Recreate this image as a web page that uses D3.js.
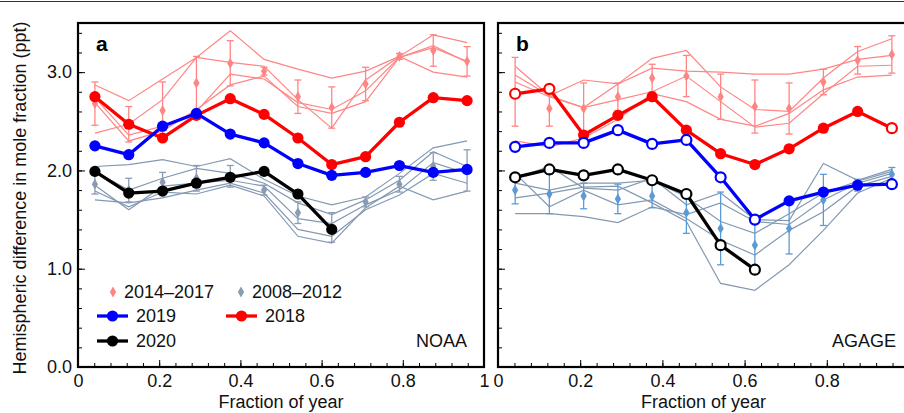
<!DOCTYPE html>
<html>
<head>
<meta charset="utf-8">
<script src="https://cdn.jsdelivr.net/npm/d3@7"></script>
<style>
  body { margin: 0; background: #fff; }
  svg { font-family: "Liberation Sans", Arial, sans-serif; }
</style>
</head>
<body>
<svg id="chart" width="904" height="413"></svg>
<script>
// month centres as fraction of year
var months = d3.range(12).map(function(i) { return (i + 0.5) / 12; });

// ---- NOAA (panel a) ----
var noaa2018 = [2.75, 2.47, 2.33, 2.56, 2.73, 2.57, 2.33, 2.06, 2.14, 2.49, 2.74, 2.71];
var noaa2019 = [2.25, 2.16, 2.45, 2.58, 2.37, 2.28, 2.07, 1.95, 1.98, 2.05, 1.98, 2.01];
var noaa2020 = [1.99, 1.77, 1.79, 1.87, 1.93, 1.99, 1.76, 1.40];
var noaaRecent = [ // 2014-2017
  [2.87, 2.71, 2.93, 3.15, 3.42, 3.13, 3.03, 2.94, 3.01, 3.16, 3.38, 3.30],
  [2.74, 2.36, 2.45, 2.60, 2.98, 2.93, 2.69, 2.62, 2.81, 3.15, 3.25, 3.11],
  [2.69, 2.30, 2.40, 2.62, 2.87, 2.96, 2.65, 2.58, 2.70, 3.15, 3.27, 3.10],
  [2.38, 2.47, 2.72, 3.15, 3.10, 3.06, 2.72, 2.43, 2.92, 3.16, 3.00, 2.95]
];
var noaaRecentMean = [2.68, 2.47, 2.61, 2.89, 3.09, 3.01, 2.75, 2.64, 2.88, 3.16, 3.22, 3.11];
var noaaRecentErr  = [0.22, 0.18, 0.29, 0.27, 0.23, 0.04, 0.17, 0.21, 0.17, 0.03, 0.16, 0.15];
var noaaOld = [ // 2008-2012
  [2.04, 2.06, 2.11, 2.04, 2.12, 1.91, 1.74, 1.65, 1.73, 1.97, 2.23, 2.30],
  [1.99, 1.80, 1.92, 2.02, 1.97, 1.87, 1.67, 1.55, 1.70, 1.90, 2.19, 2.04],
  [1.85, 1.60, 1.84, 1.87, 1.90, 1.84, 1.51, 1.46, 1.65, 1.80, 2.08, 1.97],
  [1.70, 1.67, 1.72, 1.80, 1.87, 1.77, 1.40, 1.33, 1.60, 1.75, 1.97, 1.87],
  [1.79, 1.63, 1.78, 1.76, 1.85, 1.74, 1.33, 1.26, 1.62, 1.84, 1.70, 1.79]
];
var noaaOldMean = [1.86, 1.80, 1.88, 1.92, 1.94, 1.80, 1.57, 1.42, 1.68, 1.86, 2.04, 2.00];
var noaaOldErr  = [0.10, 0.12, 0.10, 0.13, 0.11, 0.05, 0.11, 0.15, 0.05, 0.08, 0.14, 0.21];

// ---- AGAGE (panel b) ----
var agage2018 = [2.78, 2.83, 2.36, 2.56, 2.75, 2.41, 2.17, 2.06, 2.22, 2.43, 2.60, 2.43];
var agage2019 = [2.24, 2.28, 2.28, 2.41, 2.27, 2.31, 1.93, 1.50, 1.69, 1.78, 1.85, 1.86];
var agage2020 = [1.93, 2.01, 1.95, 2.01, 1.90, 1.76, 1.24, 0.99];
// which AGAGE points are drawn open
var agage2018Open = [1, 1, 0, 0, 0, 0, 0, 0, 0, 0, 0, 1];
var agage2019Open = [1, 1, 1, 1, 1, 1, 1, 1, 0, 0, 0, 1];
var agage2020Open = [1, 1, 1, 1, 1, 1, 1, 1];
var agageRecent = [
  [3.06, 2.76, 2.92, 2.88, 3.14, 3.22, 2.85, 2.62, 2.60, 2.94, 3.21, 3.34],
  [2.97, 2.76, 2.64, 2.88, 3.04, 3.01, 3.00, 2.98, 2.98, 3.03, 3.13, 3.17],
  [2.90, 2.75, 2.64, 2.72, 2.80, 2.96, 2.70, 2.44, 2.48, 2.78, 3.06, 3.07],
  [2.30, 2.24, 2.33, 2.52, 2.78, 2.70, 2.52, 2.45, 2.58, 2.82, 2.95, 2.97]
];
var agageRecentMean = [2.80, 2.63, 2.63, 2.75, 2.94, 2.96, 2.75, 2.65, 2.63, 2.90, 3.12, 3.18];
var agageRecentErr  = [0.35, 0.18, 0.26, 0.14, 0.14, 0.21, 0.23, 0.27, 0.26, 0.13, 0.14, 0.19];
var agageOld = [
  [1.92, 2.04, 1.82, 1.80, 1.92, 1.65, 1.77, 1.50, 1.49, 2.07, 1.90, 2.01],
  [1.87, 1.80, 1.87, 1.87, 1.90, 1.73, 1.48, 1.36, 1.56, 1.77, 1.89, 1.99],
  [1.97, 1.63, 1.80, 1.65, 1.70, 1.51, 1.29, 1.14, 1.39, 1.58, 1.84, 1.94],
  [1.72, 1.77, 1.83, 1.84, 1.67, 1.48, 0.85, 0.78, 1.04, 1.39, 1.77, 1.92],
  [1.56, 1.56, 1.53, 1.47, 1.63, 1.55, 1.67, 1.48, 1.45, 1.70, 1.87, 1.97]
];
var agageOldMean = [1.80, 1.76, 1.74, 1.71, 1.74, 1.57, 1.41, 1.24, 1.41, 1.70, 1.85, 1.96];
var agageOldErr  = [0.14, 0.20, 0.13, 0.15, 0.12, 0.21, 0.37, 0.22, 0.26, 0.26, 0.06, 0.07];

var xTicks = [0, 0.2, 0.4, 0.6, 0.8, 1];
var xTickLabels = ["0", "0.2", "0.4", "0.6", "0.8", "1"];
var yTicks = [0, 1, 2, 3];
var yTickLabels = ["0.0", "1.0", "2.0", "3.0"];

var pink = "#ff8585", slate = "#8399b3";
var fs = 18;

var svg = d3.select("#chart");
var y = d3.scaleLinear().domain([0, 3.5]).range([367, 23]);

// thin rule across the top of the figure
svg.append("line").attr("x1", 0).attr("x2", 904).attr("y1", 1.5).attr("y2", 1.5)
  .attr("stroke", "#333").attr("stroke-width", 1);

function panel(opts) {
  var x = d3.scaleLinear().domain([0, 1]).range(opts.range);
  var g = svg.append("g");
  var line = d3.line().x(function(d, i) { return x(months[i]); }).y(function(d) { return y(d); });

  // minor/major ticks, pointing in
  g.append("g").attr("transform", "translate(0," + y(0) + ")")
    .call(d3.axisBottom(x).tickValues(d3.range(0, 1.001, 0.04)).tickSizeInner(-4).tickSizeOuter(0).tickFormat(""))
    .call(function(s) { s.select(".domain").remove(); });
  g.append("g").attr("transform", "translate(0," + y(0) + ")")
    .call(d3.axisBottom(x).tickValues(xTicks).tickSizeInner(-7).tickSizeOuter(0).tickPadding(7)
      .tickFormat(function(d, i) { return xTickLabels[i]; }))
    .call(function(s) {
      s.select(".domain").remove();
      s.selectAll("text").attr("font-size", fs).attr("fill", "#111").attr("font-family", null);
    });
  g.append("g").attr("transform", "translate(" + opts.range[0] + ",0)")
    .call(d3.axisLeft(y).tickValues(d3.range(0, 3.501, 0.2)).tickSizeInner(-4).tickSizeOuter(0).tickFormat(""))
    .call(function(s) { s.select(".domain").remove(); });
  g.append("g").attr("transform", "translate(" + opts.range[0] + ",0)")
    .call(d3.axisLeft(y).tickValues(yTicks).tickSizeInner(-7).tickSizeOuter(0).tickPadding(6)
      .tickFormat(function(d, i) { return opts.yLabels ? yTickLabels[i] : ""; }))
    .call(function(s) {
      s.select(".domain").remove();
      s.selectAll("text").attr("font-size", fs).attr("fill", "#111").attr("font-family", null);
    });

  // previous-years thin lines
  g.selectAll(".old").data(opts.old).enter().append("path")
    .attr("d", line).attr("fill", "none").attr("stroke", slate).attr("stroke-width", 1.2);
  g.selectAll(".recent").data(opts.recent).enter().append("path")
    .attr("d", line).attr("fill", "none").attr("stroke", pink).attr("stroke-width", 1.2);

  // mean + error bars
  function errs(mean, err, col) {
    var eg = g.append("g").attr("stroke", col).attr("stroke-width", 1.3);
    mean.forEach(function(m, i) {
      var cx = x(months[i]);
      eg.append("line").attr("x1", cx).attr("x2", cx).attr("y1", y(m - err[i])).attr("y2", y(m + err[i]));
      eg.append("line").attr("x1", cx - 3.5).attr("x2", cx + 3.5).attr("y1", y(m - err[i])).attr("y2", y(m - err[i]));
      eg.append("line").attr("x1", cx - 3.5).attr("x2", cx + 3.5).attr("y1", y(m + err[i])).attr("y2", y(m + err[i]));
    });
    g.selectAll(null).data(mean).enter().append("path")
      .attr("d", d3.symbol(d3.symbolDiamond, 34))
      .attr("transform", function(d, i) { return "translate(" + x(months[i]) + "," + y(d) + ")"; })
      .attr("fill", col);
  }
  errs(opts.oldMean, opts.oldErr, opts.oldCol);
  errs(opts.recentMean, opts.recentErr, pink);

  // thick year lines
  function year(vals, open, col) {
    g.append("path").datum(vals).attr("d", line).attr("fill", "none")
      .attr("stroke", col).attr("stroke-width", 3.3).attr("stroke-linejoin", "round");
    g.selectAll(null).data(vals).enter().append("circle")
      .attr("cx", function(d, i) { return x(months[i]); })
      .attr("cy", function(d) { return y(d); })
      .attr("r", function(d, i) { return open && open[i] ? 5 : 5.6; })
      .attr("fill", function(d, i) { return open && open[i] ? "#fff" : col; })
      .attr("stroke", col)
      .attr("stroke-width", function(d, i) { return open && open[i] ? 2.2 : 0; });
  }
  year(opts.y2018, opts.open2018, "#ff0000");
  year(opts.y2019, opts.open2019, "#0000ff");
  year(opts.y2020, opts.open2020, "#000");

  // frame
  g.append("rect").attr("x", opts.range[0]).attr("y", y(3.5))
    .attr("width", opts.range[1] - opts.range[0]).attr("height", y(0) - y(3.5))
    .attr("fill", "none").attr("stroke", "#000").attr("stroke-width", 2.2);

  g.append("text").attr("x", opts.range[0] + 18).attr("y", 51).text(opts.letter)
    .attr("font-size", 21).attr("font-weight", "bold").attr("fill", "#000");
  g.append("text").attr("x", opts.netX).attr("y", 347).text(opts.network)
    .attr("font-size", fs).attr("text-anchor", "end").attr("fill", "#111");
  g.append("text").attr("x", (opts.range[0] + opts.range[1]) / 2).attr("y", 408)
    .attr("text-anchor", "middle").attr("font-size", fs).attr("fill", "#111").text("Fraction of year");
  return g;
}

var ga = panel({
  range: [78, 484], yLabels: true, letter: "a", network: "NOAA", netX: 467,
  y2018: noaa2018, y2019: noaa2019, y2020: noaa2020,
  recent: noaaRecent, recentMean: noaaRecentMean, recentErr: noaaRecentErr,
  old: noaaOld, oldMean: noaaOldMean, oldErr: noaaOldErr, oldCol: "#8a9cb3"
});
panel({
  range: [498, 909], yLabels: false, letter: "b", network: "AGAGE", netX: 896,
  y2018: agage2018, y2019: agage2019, y2020: agage2020,
  open2018: agage2018Open, open2019: agage2019Open, open2020: agage2020Open,
  recent: agageRecent, recentMean: agageRecentMean, recentErr: agageRecentErr,
  old: agageOld, oldMean: agageOldMean, oldErr: agageOldErr, oldCol: "#5b9bd5"
});

// y axis title
svg.append("text").attr("transform", "translate(20,198) rotate(-90)")
  .attr("text-anchor", "middle").attr("dy", "0.35em").attr("font-size", 18).attr("fill", "#111")
  .text("Hemispheric difference in mole fraction (ppt)");

// legend (panel a)
var leg = ga.append("g").attr("font-size", fs).attr("fill", "#111");
var legDiamonds = [{x: 113, label: "2014\u20132017", col: pink}, {x: 241, label: "2008\u20132012", col: "#8a9cb3"}];
legDiamonds.forEach(function(d) {
  leg.append("path").attr("d", d3.symbol(d3.symbolDiamond, 34)).attr("fill", d.col)
    .attr("transform", "translate(" + d.x + ",292)");
  leg.append("text").attr("x", d.x + 11).attr("y", 292).attr("dy", "0.35em").text(d.label);
});
var legYears = [{x: 97, y: 316, label: "2019", col: "#0000ff"}, {x: 226, y: 316, label: "2018", col: "#ff0000"},
  {x: 97, y: 341, label: "2020", col: "#000"}];
legYears.forEach(function(d) {
  leg.append("line").attr("x1", d.x).attr("x2", d.x + 31).attr("y1", d.y).attr("y2", d.y)
    .attr("stroke", d.col).attr("stroke-width", 3.3);
  leg.append("circle").attr("cx", d.x + 15.5).attr("cy", d.y).attr("r", 5.6).attr("fill", d.col);
  leg.append("text").attr("x", d.x + 39).attr("y", d.y).attr("dy", "0.35em").text(d.label);
});
</script>
</body>
</html>
